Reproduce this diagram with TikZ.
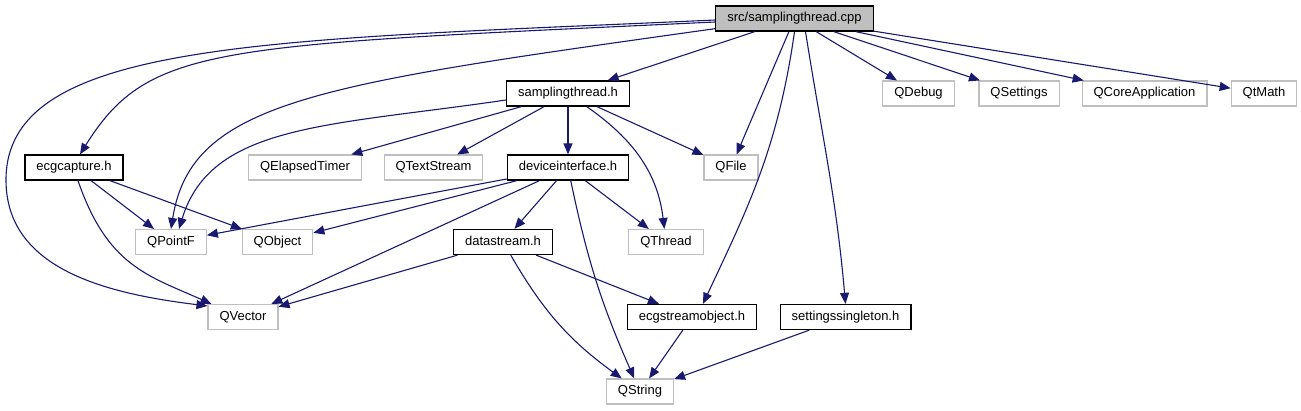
\documentclass[tikz,border=0pt]{standalone}
\usepackage{fontspec}
\setmainfont{Liberation Sans}
\usepackage{tikz}
\usetikzlibrary{arrows.meta}
\definecolor{edgeblue}{HTML}{191970}
\definecolor{boxgray}{HTML}{BFBFBF}

\begin{document}
\begin{tikzpicture}[x=1pt,y=1pt,
    file/.style={draw=black, line width=1.3pt, fill=white, minimum height=25pt,
      inner xsep=11.5pt, inner ysep=0pt, text height=9.5pt, text depth=2.8pt,
      font=\fontsize{13}{15}\selectfont},
    ext/.style={file, draw=boxgray, line width=1.1pt},
    root/.style={file, fill=boxgray},
    dep/.style={draw=edgeblue, line width=1.1pt, -{Triangle[length=11pt,width=9pt]}}]
  \useasboundingbox (0,0) rectangle (1301,-411);

  % Row 1
  \node[root] (cpp) at (794.5,-18.5) {src/samplingthread.cpp};

  % Row 2
  \node[file] (sth) at (568,-93.5) {samplingthread.h};
  \node[ext] (qdebug) at (918.5,-93.5) {QDebug};
  \node[ext] (qsettings) at (1019,-93.5) {QSettings};
  \node[ext] (qcoreapp) at (1144.5,-93.5) {QCoreApplication};
  \node[ext] (qtmath) at (1264,-93.5) {QtMath};

  % Row 3
  \node[file] (ecgcap) at (74,-167.5) {ecgcapture.h};
  \node[ext] (qelapsed) at (305,-167.5) {QElapsedTimer};
  \node[ext] (qtextstream) at (433.5,-167.5) {QTextStream};
  \node[file] (devif) at (568,-167.5) {deviceinterface.h};
  \node[ext] (qfile) at (731,-167.5) {QFile};

  % Row 4
  \node[ext] (qpointf) at (171,-242) {QPointF};
  \node[ext] (qobject) at (277.5,-242) {QObject};
  \node[file] (datastream) at (503,-242) {datastream.h};
  \node[ext] (qthread) at (666,-242) {QThread};

  % Row 5
  \node[ext] (qvector) at (243,-317) {QVector};
  \node[file] (ecgstream) at (692,-317) {ecgstreamobject.h};
  \node[file] (settings) at (845.5,-317) {settingssingleton.h};

  % Row 6
  \node[ext] (qstring) at (640,-391.5) {QString};

  \coordinate (qvecbend) at (6,-180);

  % src/samplingthread.cpp
  \draw[dep] (cpp) -- (sth);
  \draw[dep] ([yshift=-3.5pt]cpp.west) to[out=182.7,in=58,out distance=500pt,in distance=130pt] ([xshift=6pt]ecgcap.north);
  \draw[dep] ([yshift=-1.5pt]cpp.west) to[out=182.6,in=90,out distance=450pt,in distance=140pt] (qvecbend)
    to[out=-90,in=173,out distance=90pt,in distance=100pt] ([yshift=-2pt]qvector.north west);
  \draw[dep] ([yshift=3pt]cpp.south west) to[out=188,in=81,out distance=400pt,in distance=130pt] (qpointf.north);
  \draw[dep] (cpp) -- (qfile);
  \draw[dep] (cpp.south) to[out=-98,in=65,out distance=120pt,in distance=100pt] ([xshift=11pt]ecgstream.north);
  \draw[dep] ([xshift=11pt]cpp.south) to[out=-81,in=95] (settings.north);
  \draw[dep] (cpp) -- (qdebug);
  \draw[dep] (cpp) -- (qsettings);
  \draw[dep] (cpp) -- (qcoreapp);
  \draw[dep] (cpp) -- (qtmath);

  % samplingthread.h
  \draw[dep] ([yshift=-6.5pt]sth.west) to[out=188.4,in=73,out distance=180pt,in distance=110pt] ([xshift=8pt]qpointf.north);
  \draw[dep] (sth) -- (qelapsed);
  \draw[dep] (sth) -- (qtextstream);
  \draw[dep] (sth) -- (devif);
  \draw[dep] (sth) to[out=-35,in=97] (qthread);
  \draw[dep] (sth) -- (qfile);

  % ecgcapture.h
  \draw[dep] (ecgcap) -- (qpointf);
  \draw[dep] (ecgcap) -- (qobject);
  \draw[dep] ([xshift=4pt]ecgcap.south) to[out=-71,in=156,out distance=90pt,in distance=70pt] ([xshift=4pt]qvector.north west);

  % deviceinterface.h
  \draw[dep] (devif) -- (qpointf);
  \draw[dep] (devif) -- (qobject);
  \draw[dep] (devif) -- (qvector);
  \draw[dep] (devif) -- (datastream);
  \draw[dep] (devif) to[bend right=6] (qstring);
  \draw[dep] (devif) -- (qthread);

  % datastream.h
  \draw[dep] (datastream) -- (qvector);
  \draw[dep] (datastream) to[bend right=12] (qstring);
  \draw[dep] (datastream) -- (ecgstream);

  % ecgstreamobject.h, settingssingleton.h
  \draw[dep] (ecgstream) -- (qstring);
  \draw[dep] (settings) -- (qstring);
\end{tikzpicture}
\end{document}
